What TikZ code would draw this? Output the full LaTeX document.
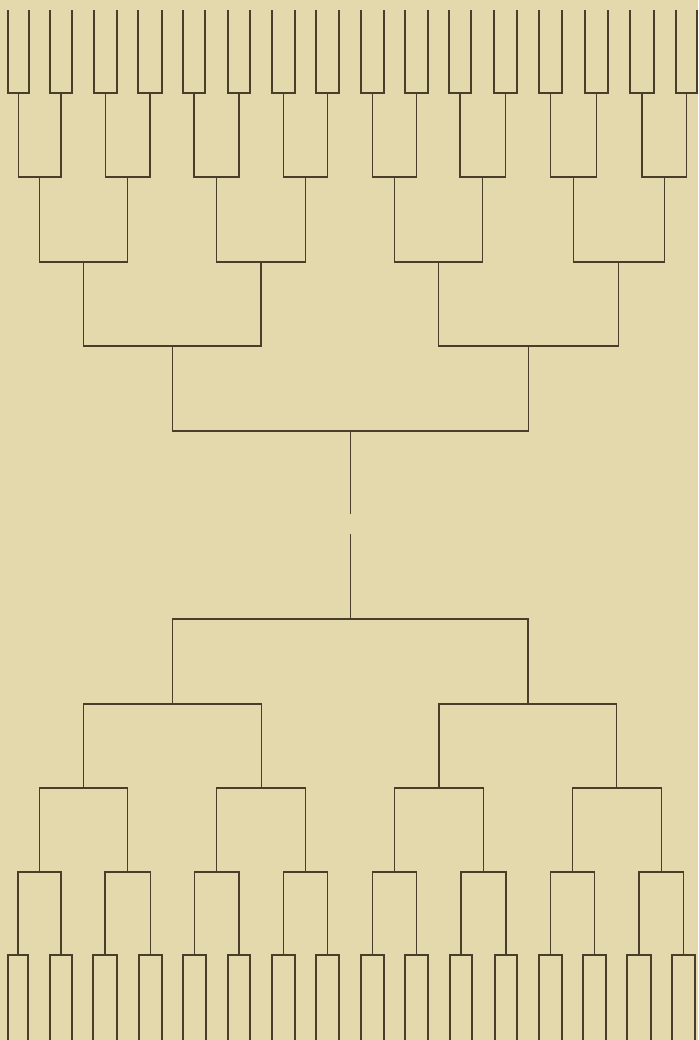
\documentclass[tikz,border=0pt]{standalone}
\usetikzlibrary{calc}
\definecolor{paper}{RGB}{227,217,172}
\definecolor{ink}{RGB}{72,62,42}
\begin{document}
\begin{tikzpicture}[x=1pt,y=-1pt,
  wire/.style={draw=ink,line width=1.2pt,line cap=rect,line join=miter}]
\useasboundingbox (0,0) rectangle (698,1040);
\fill[paper] (0,0) rectangle (698,1040);
% ---------- top half: leaves ----------
\foreach \i/\a/\b in {0/8/29,1/50/72,2/94/117,3/138/162,4/183/205,5/228/250,6/272/295,7/316/339,
                      8/361/384,9/405/428,10/449/471,11/494/517,12/539/562,13/585/608,14/630/654,15/676/697}{
  \coordinate (TLa\i) at (\a,11);
  \coordinate (TLb\i) at (\b,11);
  \coordinate (TP\i) at ({(\a+\b)/2},93);
  \draw[wire] (TLa\i) |- (TP\i) -| (TLb\i);
}
\foreach \cur/\prev/\yy/\n in {A/P/177/7,B/A/262/3,C/B/346/1,D/C/431/0}{
  \foreach \j in {0,...,\n}{
    \pgfmathtruncatemacro\l{2*\j}
    \pgfmathtruncatemacro\r{2*\j+1}
    \coordinate (tmp) at ($(T\prev\l)!0.5!(T\prev\r)$);
    \coordinate (T\cur\j) at (tmp |- 0,\yy);
    \draw[wire] (T\prev\l) |- (T\cur\j) -| (T\prev\r);
  }
}
% ---------- bottom half: leaves ----------
\foreach \i/\a/\b in {0/8/28,1/50/72,2/93/117,3/139/162,4/183/206,5/228/250,6/272/295,7/316/339,
                      8/361/384,9/405/428,10/450/472,11/495/517,12/539/562,13/583/606,14/627/651,15/672/695}{
  \coordinate (BLa\i) at (\a,1041);
  \coordinate (BLb\i) at (\b,1041);
  \coordinate (BP\i) at ({(\a+\b)/2},955);
  \draw[wire] (BLa\i) |- (BP\i) -| (BLb\i);
}
\foreach \cur/\prev/\yy/\n in {A/P/872/7,B/A/788/3,C/B/704/1,D/C/619/0}{
  \foreach \j in {0,...,\n}{
    \pgfmathtruncatemacro\l{2*\j}
    \pgfmathtruncatemacro\r{2*\j+1}
    \coordinate (tmp) at ($(B\prev\l)!0.5!(B\prev\r)$);
    \coordinate (B\cur\j) at (tmp |- 0,\yy);
    \draw[wire] (B\prev\l) |- (B\cur\j) -| (B\prev\r);
  }
}
% ---------- central stem with a gap ----------
\coordinate (gapTop) at (TD0 |- 0,513);
\coordinate (gapBot) at (TD0 |- 0,535);
\coordinate (stemEnd) at (TD0 |- BD0);
\draw[wire] (TD0) -- (gapTop);
\draw[wire] (gapBot) -- (stemEnd);
\end{tikzpicture}
\end{document}
